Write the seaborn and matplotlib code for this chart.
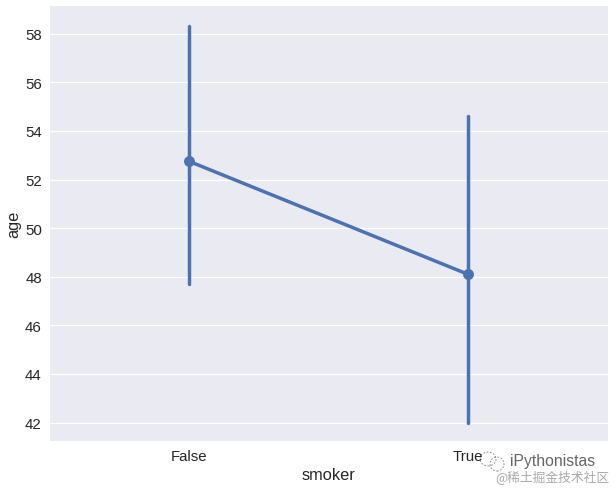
import numpy as np
import pandas as pd
import matplotlib
matplotlib.use("Agg")
import matplotlib.pyplot as plt
from matplotlib.patches import Ellipse
import seaborn as sns

# values
smoker = ["False", "True"]
age_mean = [52.75, 48.1]
age_low = [47.7, 42.0]
age_high = [58.3, 54.6]

df = pd.DataFrame({"smoker": smoker, "age": age_mean, "low": age_low, "high": age_high})

sns.set_theme(style="darkgrid")
plt.rcParams['font.family'] = ['Arial', 'Liberation Sans', 'DejaVu Sans']
color = "#4c72b0"

fig, ax = plt.subplots(figsize=(6.15, 4.89), dpi=100)
sns.pointplot(x="smoker", y="age", data=df, color=color, errorbar=None, ax=ax, linewidth=2.5, markersize=6)

# confidence intervals
for i, row in df.iterrows():
    ax.plot([i, i], [row["low"], row["high"]], color=color, lw=2.5, solid_capstyle="round")

ax.set_xlim(-0.5, 1.5)
ax.set_ylim(41.24, 59.14)
ax.set_yticks(np.arange(42, 60, 2))
ax.tick_params(labelsize=10.8, length=0, pad=5.5)
ax.set_xlabel("smoker", fontsize=11.8, labelpad=3)
ax.set_ylabel("age", fontsize=11.8, labelpad=3)
ax.xaxis.grid(False)
ax.yaxis.grid(True, color="white", lw=0.9)
for s in ax.spines.values():
    s.set_visible(False)

fig.subplots_adjust(left=49.5/615, right=607.5/615, top=1-7/489, bottom=1-442/489)

# watermark
w, h = fig.get_size_inches() * fig.dpi
for cx, cy, rx, ry in [(488, 460, 8, 7), (497, 465, 7, 7)]:
    fig.add_artist(Ellipse((cx/w, 1-cy/h), 2*rx/w, 2*ry/h, transform=fig.transFigure, fill=False,
                           ec="#777777", lw=0.6, ls=(0, (2, 2))))
fig.text(510/615, 1-462/489, "iPythonistas", fontsize=11.3, color="#666666", va="center")
fig.text(495/615, 1-477/489, "@稀土掘金技术社区", fontsize=9.2, color="#aaaaaa", va="center", family=['Noto Sans CJK SC', 'DejaVu Sans'])

fig.savefig("out.png", dpi=100)
